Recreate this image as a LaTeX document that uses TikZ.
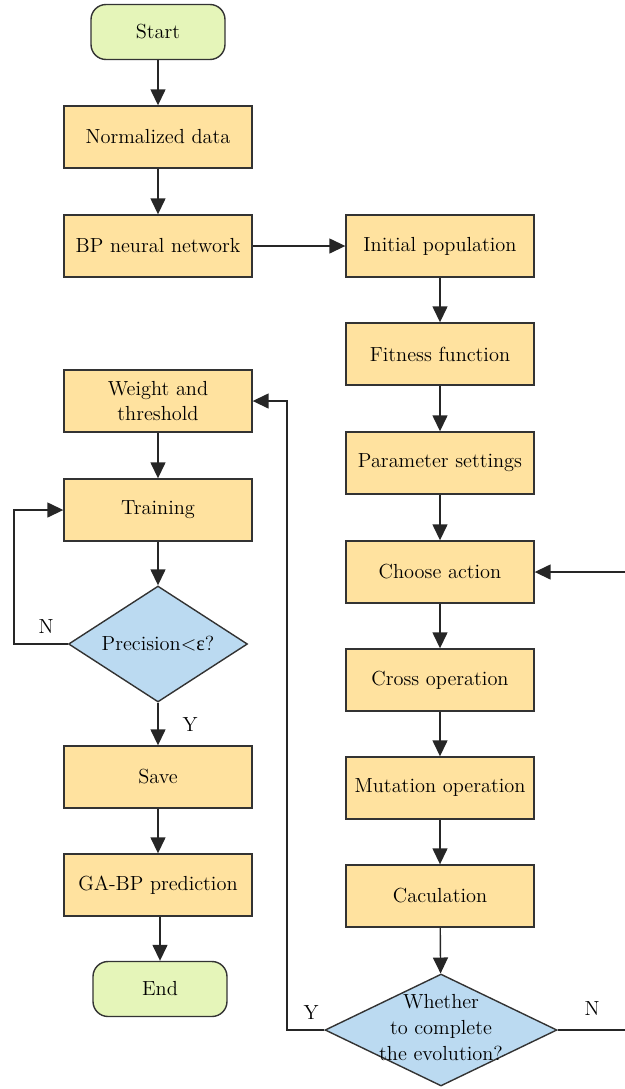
\documentclass[tikz,border=0pt]{standalone}
\usepackage{fontspec}
\newfontfamily\grkfont{Liberation Serif}
\usetikzlibrary{arrows.meta,shapes.geometric}
\definecolor{boxfill}{HTML}{FFE29F}
\definecolor{startfill}{HTML}{E5F5B9}
\definecolor{decfill}{HTML}{BBDAF1}
\definecolor{edgecol}{HTML}{333333}
\begin{document}
\begin{tikzpicture}[x=0.02cm,y=-0.02cm,
  font=\fontsize{11.6}{14.6}\selectfont,
  proc/.style={draw=edgecol, fill=boxfill, line width=0.8pt, minimum width=3.76cm, minimum height=1.24cm, inner sep=0pt, align=center},
  term/.style={draw=edgecol, fill=startfill, line width=0.8pt, rounded corners=0.3cm, minimum width=2.68cm, minimum height=1.1cm, inner sep=0pt},
  dec/.style={draw=edgecol, fill=decfill, line width=0.8pt, diamond, inner sep=0pt},
  arr/.style={-{Triangle[length=0.32cm,width=0.3cm]}, draw=black!85, line width=0.8pt},
  lbl/.style={inner sep=0pt}]
\useasboundingbox (0,0) rectangle (625,1089);
% left column
\node[term] (start) at (158,32) {Start};
\node[proc] (norm) at (158,137) {Normalized data};
\node[proc] (bp) at (158,246) {BP neural network};
\node[proc] (weight) at (158,401) {Weight and\\threshold};
\node[proc] (train) at (158,510) {Training};
\node[dec, minimum width=3.58cm, minimum height=2.32cm] (prec) at (158,644) {};
\node[lbl] (prectext) at (prec.center) {Precision<{\grkfont ε}?};
\node[proc] (save) at (158,777) {Save};
\node[proc] (pred) at (158,885) {GA-BP prediction};
\node[term] (end) at (160,989) {End};
% right column
\node[proc] (init) at (440,246) {Initial population};
\node[proc] (fit) at (440,354) {Fitness function};
\node[proc] (param) at (440,463) {Parameter settings};
\node[proc] (choose) at (440,572) {Choose action};
\node[proc] (cross) at (440,680) {Cross operation};
\node[proc] (mut) at (440,788) {Mutation operation};
\node[proc] (calc) at (440,896) {Caculation};
\node[dec, minimum width=4.64cm, minimum height=2.24cm] (evo) at (441,1030) {};
\node[lbl, align=center] (evotext) at ([yshift=0.05cm]evo.center) {Whether\\to complete\\the evolution?};
% helper coordinates
\coordinate (ycol) at (287,0);
\coordinate (ncol) at (14,0);
\coordinate (rcol) at (640,0);
% connectors
\draw[arr] (start) -- (norm);
\draw[arr] (norm) -- (bp);
\draw[arr] (bp) -- (init);
\draw[arr] (init) -- (fit);
\draw[arr] (fit) -- (param);
\draw[arr] (param) -- (choose);
\draw[arr] (choose) -- (cross);
\draw[arr] (cross) -- (mut);
\draw[arr] (mut) -- (calc);
\draw[arr] (calc) -- (evo);
\draw[arr] (evo.west) -- (evo.west -| ycol) |- (weight.east);
\draw[arr] (evo.east) -- (evo.east -| rcol) |- (choose.east);
\draw[arr] (weight) -- (train);
\draw[arr] (train) -- (prec);
\draw[arr] (prec.west) -- (prec.west -| ncol) |- (train.west);
\draw[arr] (prec) -- (save);
\draw[arr] (save) -- (pred);
\draw[arr] (pred.south -| end.north) -- (end.north);
% labels
\node[lbl] (nprec) at (46,627) {N};
\node[lbl] (yprec) at (190,725) {Y};
\node[lbl] (yevo) at (311,1013) {Y};
\node[lbl] (nevo) at (592,1009) {N};
\end{tikzpicture}
\end{document}
